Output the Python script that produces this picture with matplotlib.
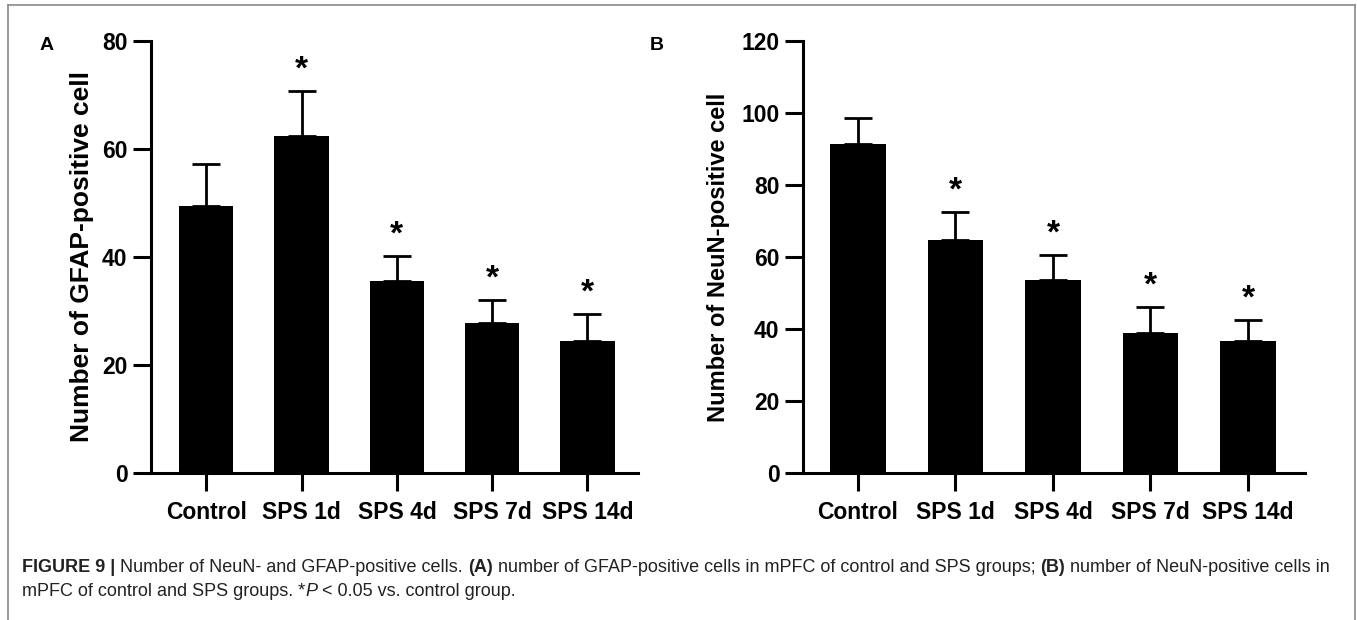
import matplotlib
matplotlib.use("Agg")
import matplotlib.pyplot as plt
from matplotlib.lines import Line2D

groups = ["Control", "SPS 1d", "SPS 4d", "SPS 7d", "SPS 14d"]
gfap_mean = [49.5, 62.4, 35.6, 27.7, 24.4]
gfap_sem = [7.7, 8.3, 4.5, 4.4, 5.1]
gfap_sig = [False, True, True, True, True]
neun_mean = [91.3, 64.7, 53.6, 39.0, 36.8]
neun_sem = [7.4, 7.7, 7.0, 7.2, 5.8]
neun_sig = [False, True, True, True, True]

W, H = 1357, 620
fig = plt.figure(figsize=(W / 100, H / 100), dpi=100)
plt.rcParams['font.family'] = ['Liberation Sans', 'DejaVu Sans']

def px_axes(x0, y0, x1, y1):
    return fig.add_axes([x0 / W, 1 - y1 / H, (x1 - x0) / W, (y1 - y0) / H])

def draw_panel(ax, means, sems, sig, ymax, step, ylabel, ylabel_size, xl, xr, lpad):
    x = list(range(len(groups)))
    ax.bar(x, means, width=0.57, color="black", zorder=2)
    ax.errorbar(x, means, yerr=[[0] * len(means), sems], fmt="none",
                ecolor="black", elinewidth=2.0, capsize=10, capthick=2.0, zorder=1)
    for xi, m, s, g in zip(x, means, sems, sig):
        if g:
            ax.annotate("*", (xi, m + s), xytext=(0, 4), textcoords="offset points",
                        ha="center", va="bottom", fontsize=24, fontweight="bold")
    ax.set_xlim(xl, xr)
    ax.set_ylim(0, ymax)
    ax.set_yticks(range(0, ymax + 1, step))
    ax.set_xticks(x)
    ax.set_xticklabels(groups)
    for s in ["top", "right"]:
        ax.spines[s].set_visible(False)
    for s in ["left", "bottom"]:
        ax.spines[s].set_linewidth(2.2)
    ax.tick_params(axis="both", length=13, width=2.2, labelsize=16.5, pad=4)
    ax.tick_params(axis="x", pad=7)
    for lab in ax.get_xticklabels() + ax.get_yticklabels():
        lab.set_fontweight("bold")
    ax.set_ylabel(ylabel, fontsize=ylabel_size, fontweight="bold", labelpad=lpad)

axA = px_axes(151, 41, 638, 473)
draw_panel(axA, gfap_mean, gfap_sem, gfap_sig, 80, 20, "Number of GFAP-positive cell", 19, -0.58, 4.53, 6)

axB = px_axes(803, 41, 1305, 473)
draw_panel(axB, neun_mean, neun_sem, neun_sig, 120, 20, "Number of NeuN-positive cell", 17, -0.564, 4.585, 8)

fig.text(47 / W, 1 - 45 / H, "A", fontsize=14, fontweight="bold", ha="center", va="center")
fig.text(657 / W, 1 - 45 / H, "B", fontsize=14, fontweight="bold", ha="center", va="center")

# figure frame
fc = "#8a8a8a"
fig.add_artist(Line2D([8 / W, 8 / W], [0, 1 - 5 / H], color=fc, lw=1.2, transform=fig.transFigure))
fig.add_artist(Line2D([8 / W, 1355 / W], [1 - 5 / H, 1 - 5 / H], color=fc, lw=1.2, transform=fig.transFigure))
fig.add_artist(Line2D([1355 / W, 1355 / W], [0, 1 - 5 / H], color=fc, lw=1.2, transform=fig.transFigure))

cap_font = 13.0
cc = "#222222"
t = fig.text(22 / W, 1 - 567 / H, "FIGURE 9 | ", fontsize=cap_font, fontweight="bold",
             color=cc, va="center")
fig.canvas.draw()
r = fig.canvas.get_renderer()
bb = t.get_window_extent(r)
segs = [("Number of NeuN- and GFAP-positive cells. ", "normal"), ("(A)", "bold"),
        (" number of GFAP-positive cells in mPFC of control and SPS groups; ", "normal"),
        ("(B)", "bold"), (" number of NeuN-positive cells in", "normal")]
xpos = bb.x1
for s, w in segs:
    tt = fig.text(xpos / W, 1 - 567 / H, s, fontsize=cap_font, fontweight=w, color=cc, va="center")
    xpos = tt.get_window_extent(r).x1
line2 = [("mPFC of control and SPS groups. *", "normal", "normal"), ("P", "normal", "italic"),
         (" < 0.05 vs. control group.", "normal", "normal")]
xpos = 22
for s, w, st in line2:
    tt = fig.text(xpos / W, 1 - 592 / H, s, fontsize=cap_font, fontweight=w, style=st,
                  color=cc, va="center")
    xpos = tt.get_window_extent(r).x1

fig.savefig("out.png", dpi=100)
